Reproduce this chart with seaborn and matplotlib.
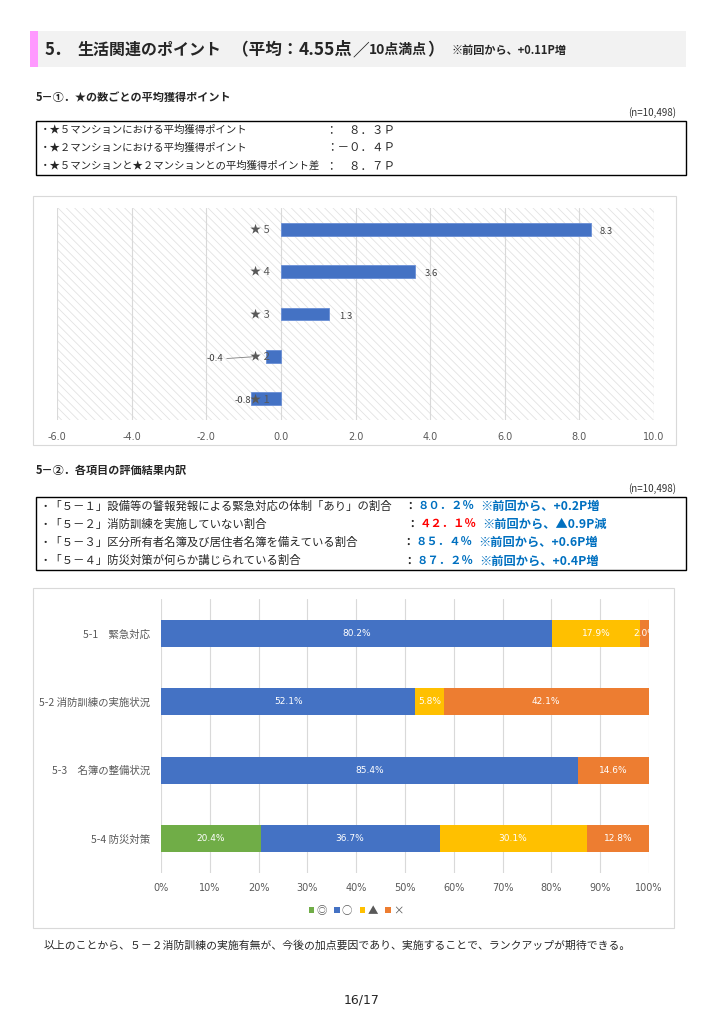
import matplotlib
matplotlib.use("Agg")
import matplotlib.pyplot as plt
from matplotlib.patches import Rectangle, Patch
import seaborn as sns
import pandas as pd

# ---------------- data ----------------
star_labels = ["★ 5", "★ 4", "★ 3", "★ 2", "★ 1"]
star_points = [8.3, 3.6, 1.3, -0.4, -0.8]
x1_ticks = [-6, -4, -2, 0, 2, 4, 6, 8, 10]

items = ["5-1　緊急対応", "5-2 消防訓練の実施状況", "5-3　名簿の整備状況", "5-4 防災対策"]
double_circle = [0.0, 0.0, 0.0, 20.4]   # ◎
circle = [80.2, 52.1, 85.4, 36.7]       # ○
triangle = [17.9, 5.8, 0.0, 30.1]       # ▲
cross = [2.0, 42.1, 14.6, 12.8]         # ×
legend_labels = ["◎", "○", "▲", "×"]
x2_ticks = [0, 10, 20, 30, 40, 50, 60, 70, 80, 90, 100]

box1_lines = [
    ("・★５マンションにおける平均獲得ポイント", "：　８．３Ｐ"),
    ("・★２マンションにおける平均獲得ポイント", "：－０．４Ｐ"),
    ("・★５マンションと★２マンションとの平均獲得ポイント差", "：　８．７Ｐ"),
]
box2_lines = [
    ("・「５－１」設備等の警報発報による緊急対応の体制「あり」の割合", "：", "８０．２％", "※前回から、+0.2P増"),
    ("・「５－２」消防訓練を実施していない割合", "：", "４２．１％", "※前回から、▲0.9P減"),
    ("・「５－３」区分所有者名簿及び居住者名簿を備えている割合", "：", "８５．４％", "※前回から、+0.6P増"),
    ("・「５－４」防災対策が何らか講じられている割合", "：", "８７．２％", "※前回から、+0.4P増"),
]

# ---------------- style ----------------
sns.set_theme(style="white")
FONTS = ["Noto Sans CJK JP", "DejaVu Sans"]
plt.rcParams["font.family"] = FONTS
plt.rcParams["hatch.linewidth"] = 0.6

BLUE = "#4472C4"
ORANGE = "#ED7D31"
GOLD = "#FFC000"
GREEN = "#70AD47"
GRAY_TXT = "#595959"
W, H = 724, 1024

fig = plt.figure(figsize=(W / 100, H / 100), dpi=100)
fig.patch.set_facecolor("white")
renderer = fig.canvas.get_renderer()


def fx(x):
    return x / W


def fy(y):
    return 1 - y / H


def txt(x, y, s, size, **kw):
    kw.setdefault("va", "center")
    return fig.text(fx(x), fy(y), s, fontsize=size, **kw)


def chain(x, y, parts):
    for s, size, gap, kw in parts:
        x += gap
        t = txt(x, y, s, size, **kw)
        x = t.get_window_extent(renderer=renderer).x1
    return x


def rect(x0, y0, x1, y1, **kw):
    r = Rectangle((fx(x0), fy(y1)), fx(x1) - fx(x0), fy(y0) - fy(y1),
                  transform=fig.transFigure, **kw)
    fig.patches.append(r)
    return r


# ---------------- header ----------------
rect(30, 31, 686, 67, facecolor="#F2F2F2", edgecolor="none", zorder=-10)
rect(30, 31, 38, 67, facecolor="#FF99FF", edgecolor="none", zorder=-9)
B = {"weight": "bold"}
txt(45, 50, "5．", 12, **B)
chain(78, 50, [
    ("生活関連のポイント", 11.5, 0, B),
    ("（平均：", 12, 10, B),
    ("4.55点", 12.5, 0, B),
    ("／", 12, 0, B),
    ("10点満点", 10, 0, B),
    ("）", 12, 0, B),
    ("※前回から、+0.11P増", 8, 8, B),
])

# ---------------- section 1 ----------------
txt(36, 97, "5－①．★の数ごとの平均獲得ポイント", 8, weight="bold")
txt(676, 113, "(n=10,498)", 7, ha="right", color="#333333")
rect(36, 121, 686, 175, facecolor="none", edgecolor="#000000", lw=1.0)
for i, (a, b) in enumerate(box1_lines):
    y = 130 + i * 18
    txt(40, y, a, 7.5)
    txt(326, y, b, 8.3)

# frame of chart 1
rect(33, 196, 676, 445, facecolor="white", edgecolor="#D9D9D9", lw=0.8, zorder=-10)

ax1 = fig.add_axes([fx(57), fy(420), fx(654) - fx(57), fy(208) - fy(420)])
ax1.set_facecolor("white")
df1 = pd.DataFrame({"star": star_labels, "point": star_points})
ax1.add_patch(Rectangle((0, 0), 1, 1, transform=ax1.transAxes, facecolor="white",
                        edgecolor="#E3E3E3", hatch="\\\\\\\\", lw=0, zorder=0))
sns.barplot(data=df1, x="point", y="star", orient="h", color=BLUE, width=0.3,
            saturation=1, ax=ax1, zorder=3, edgecolor="#6A8FD6", linewidth=0.6)
ax1.set_xlim(x1_ticks[0], x1_ticks[-1])
ax1.set_ylim(4.5, -0.5)
ax1.set_xticks(x1_ticks)
ax1.set_xticklabels([f"{t:.1f}" for t in x1_ticks], fontsize=7, color=GRAY_TXT,
                    family=["DejaVu Sans"])
ax1.tick_params(axis="x", length=0, pad=9)
ax1.set_yticks([])
ax1.set_xlabel("")
ax1.set_ylabel("")
for s in ax1.spines.values():
    s.set_visible(False)
for t in x1_ticks:
    ax1.axvline(t, color="#D9D9D9", lw=0.8, zorder=1)
for i, (lab, v) in enumerate(zip(star_labels, star_points)):
    ax1.text(-0.3, i, lab, ha="right", va="center", fontsize=8, color=GRAY_TXT, zorder=5)
    if v >= 0:
        ax1.text(v + 0.25, i + 0.05, f"{v:.1f}", ha="left", va="center", fontsize=6.8,
                 color="#404040", zorder=5)
# negative labels
ax1.text(-1.55, 3.05, f"{star_points[3]:.1f}", ha="right", va="center", fontsize=6.8,
         color="#404040", zorder=5)
ax1.plot([-1.45, -0.6], [3.05, 3.0], color="#7F7F7F", lw=0.6, zorder=4)
ax1.text(-0.8, 4.05, f"{star_points[4]:.1f}", ha="right", va="center", fontsize=6.8,
         color="#404040", zorder=5)

# ---------------- section 2 ----------------
txt(36, 470, "5－②．各項目の評価結果内訳", 8, weight="bold")
txt(676, 489, "(n=10,498)", 7, ha="right", color="#333333")
rect(36, 497, 686, 570, facecolor="none", edgecolor="#000000", lw=1.0)
colon_x = [404, 406, 402, 403]
for i, (a, c, pct, note) in enumerate(box2_lines):
    y = 506 + i * 18.3
    txt(40, y, a, 8.2)
    cx = colon_x[i]
    txt(cx, y, c, 8.3, weight="bold")
    txt(cx + 14, y, pct, 8.2, weight="bold", color="#FF0000" if i == 1 else "#0070C0")
    txt(cx + 76, y, note, 8.8, weight="bold", color="#0070C0")

# frame of chart 2
rect(33, 588, 674, 928, facecolor="white", edgecolor="#D9D9D9", lw=0.8, zorder=-10)

ax2 = fig.add_axes([fx(161), fy(873), fx(649) - fx(161), fy(599) - fy(873)])
ax2.set_facecolor("none")
cum1 = [a for a in double_circle]
cum2 = [a + b for a, b in zip(cum1, circle)]
cum3 = [a + b for a, b in zip(cum2, triangle)]
cum4 = [a + b for a, b in zip(cum3, cross)]
for vals, col in [(cum4, ORANGE), (cum3, GOLD), (cum2, BLUE), (cum1, GREEN)]:
    d = pd.DataFrame({"item": items, "v": vals})
    sns.barplot(data=d, x="v", y="item", orient="h", color=col, width=0.4,
                saturation=1, ax=ax2, zorder=3, linewidth=0)
ax2.set_xlim(0, 100)
ax2.set_ylim(3.5, -0.5)
ax2.set_xticks(x2_ticks)
ax2.set_xticklabels([f"{t}%" for t in x2_ticks], fontsize=7, color=GRAY_TXT,
                    family=["DejaVu Sans"])
ax2.tick_params(axis="x", length=0, pad=7)
ax2.tick_params(axis="y", length=0, pad=8)
for lab in ax2.get_yticklabels():
    lab.set_fontsize(7.5)
    lab.set_color(GRAY_TXT)
ax2.set_xlabel("")
ax2.set_ylabel("")
for s in ax2.spines.values():
    s.set_visible(False)
for t in x2_ticks:
    ax2.axvline(t, color="#D9D9D9", lw=0.8, zorder=1)
for i in range(len(items)):
    starts = [0, cum1[i], cum2[i], cum3[i]]
    segs = [double_circle[i], circle[i], triangle[i], cross[i]]
    for s0, v in zip(starts, segs):
        if v > 0:
            ax2.text(s0 + v / 2, i, f"{v:.1f}%", ha="center", va="center",
                     fontsize=6.5, color="white", zorder=5, family=["DejaVu Sans"])
handles = [Patch(facecolor=c, edgecolor="none") for c in [GREEN, BLUE, GOLD, ORANGE]]
fig.legend(handles, legend_labels, loc="center", bbox_to_anchor=(fx(356), fy(911)),
           ncol=4, frameon=False, fontsize=7.5, handlelength=0.55, handleheight=0.55,
           handletextpad=0.2, columnspacing=0.7, labelcolor=GRAY_TXT)

# ---------------- footer ----------------
txt(44, 946, "以上のことから、５－２消防訓練の実施有無が、今後の加点要因であり、実施することで、ランクアップが期待できる。", 7.8)
txt(362, 1000, "16/17", 9, ha="center", family=["Liberation Sans Narrow", "DejaVu Sans"])

fig.savefig("out.png", dpi=100, facecolor="white")
